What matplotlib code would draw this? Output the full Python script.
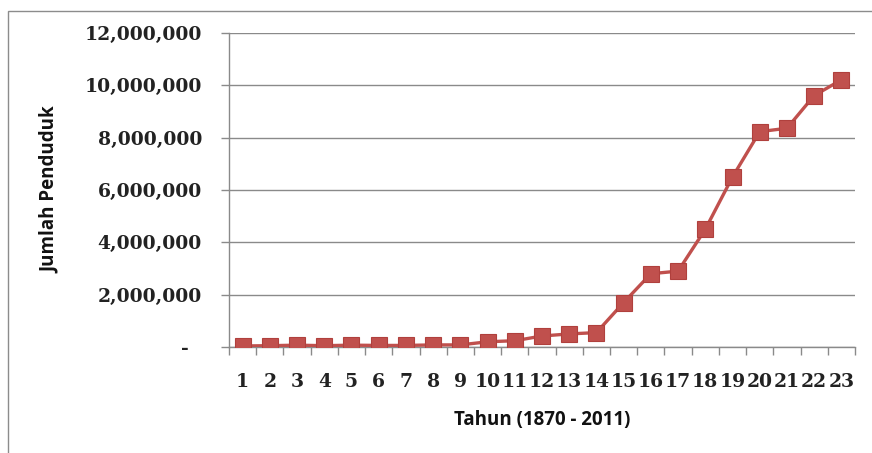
import matplotlib
matplotlib.use("Agg")
import matplotlib.pyplot as plt
from matplotlib.patches import Rectangle
from matplotlib.ticker import FuncFormatter

categories = list(range(1, 24))
population = [40000, 50000, 70000, 50000, 70000, 60000, 60000, 80000, 80000,
              200000, 240000, 420000, 500000, 550000, 1700000, 2800000, 2900000,
              4500000, 6500000, 8230000, 8360000, 9610000, 10210000]
y_ticks = [0, 2000000, 4000000, 6000000, 8000000, 10000000, 12000000]
x_title = "Tahun (1870 - 2011)"
y_title = "Jumlah Penduduk"

W, H = 872, 453
fig = plt.figure(figsize=(W / 100, H / 100), dpi=100)
fig.patch.set_facecolor("white")

# outer chart-area border
fig.patches.append(Rectangle((8 / W, -0.05), 1.2, 1 - 11 / H + 0.05,
                             transform=fig.transFigure, fill=False,
                             edgecolor="#8c8c8c", linewidth=1.0))

ax = fig.add_axes([229 / W, (H - 347) / H, (855 - 229) / W, (347 - 33) / H])
ax.plot(categories, population, color="#C0504D", linewidth=2.4,
        marker="s", markersize=12, markerfacecolor="#C0504D",
        markeredgecolor="#B0403D", markeredgewidth=0.8, zorder=3)

ax.set_xlim(0.5, 23.5)
ax.set_ylim(0, 12000000)
ax.set_yticks(y_ticks)
ax.yaxis.set_major_formatter(FuncFormatter(lambda v, p: "-  " if v == 0 else f"{int(v):,}"))
ax.grid(axis="y", color="#8a8a8a", linewidth=1.0)
ax.set_axisbelow(True)

# x ticks between categories, labels at categories
ax.set_xticks([i + 0.5 for i in range(0, 24)])
ax.set_xticklabels([])
ax.set_xticks(categories, minor=True)
ax.set_xticklabels([str(c) for c in categories], minor=True)
ax.tick_params(axis="x", which="major", length=6, width=1, color="#8a8a8a", direction="out")
ax.tick_params(axis="x", which="minor", length=0, pad=18.5)
ax.tick_params(axis="y", length=6, width=1, color="#8a8a8a", pad=13.5)

for lbl in ax.get_xticklabels(minor=True):
    lbl.set_fontfamily("DejaVu Serif")
    lbl.set_fontweight("bold")
    lbl.set_fontsize(13.5)
    lbl.set_color("#222222")
for lbl in ax.get_yticklabels():
    lbl.set_fontfamily("DejaVu Serif")
    lbl.set_fontweight("bold")
    lbl.set_fontsize(13.5)
    lbl.set_color("#222222")

for s in ["top", "right"]:
    ax.spines[s].set_visible(False)
for s in ["left", "bottom"]:
    ax.spines[s].set_color("#8a8a8a")
    ax.spines[s].set_linewidth(1.0)

fig.text(50 / W, 1 - 190 / H, y_title, rotation=90, ha="center", va="center",
         fontsize=13.5, fontweight="bold", fontfamily="Open Sans", color="#111111")
fig.text(542 / W, 1 - 420 / H, x_title, ha="center", va="center",
         fontsize=13.5, fontweight="bold", fontfamily="Open Sans", color="#111111")

fig.savefig("out.png", dpi=100)
